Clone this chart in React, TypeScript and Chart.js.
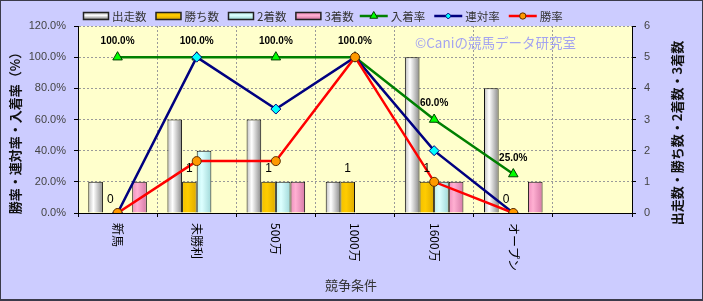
import React, { useEffect, useRef } from 'react';
import { Chart, registerables } from 'chart.js';

Chart.register(...registerables);

// ---- data ----
const categories = ['新馬', '未勝利', '500万', '1000万', '1600万', 'オープン', ''];
const starts = [1, 3, 3, 1, 5, 4, null];
const wins = [0, 1, 1, 1, 1, 0, null];
const seconds = [0, 2, 1, 0, 1, 0, null];
const thirds = [1, 0, 1, 0, 1, 1, null];
const placeRate = [100, 100, 100, 100, 60, 25, null];
const quinellaRate = [0, 100, 66.7, 100, 40, 0, null];
const winRate = [0, 33.3, 33.3, 100, 20, 0, null];
const leftTickMax = 120;
const leftTickStep = 20;
const rightTickMax = 6;
const rightTickStep = 1;
const barLabels = ['出走数', '勝ち数', '2着数', '3着数'];
const lineLabels = ['入着率', '連対率', '勝率'];
const leftTitle = '勝率・連対率・入着率（%）';
const rightTitle = '出走数・勝ち数・2着数・3着数';
const xTitle = '競争条件';
const watermark = '©Caniの競馬データ研究室';

// ---- styles ----
const JP = '"Noto Sans CJK JP", sans-serif';
const NUM = '"Liberation Sans", Arial, sans-serif';
const CAT_PCT = 0.74;

type Stops = [number, string][];
const barStops: Stops[] = [
  [[0, '#BDBDBD'], [0.35, '#FFFFFF'], [1, '#8A8A8A']],
  [[0, '#F2C000'], [0.4, '#FFCC00'], [1, '#DDAA00']],
  [[0, '#BFEFEF'], [0.35, '#DDFFFF'], [1, '#9FD8D8']],
  [[0, '#EE8FBC'], [0.35, '#FFB0D2'], [1, '#D679A6']],
];
const lineStyles = [
  { color: '#008000', point: 'triangle', fill: '#00FF00', border: '#004000', radius: 5.5 },
  { color: '#000080', point: 'rectRot', fill: '#00FFFF', border: '#000080', radius: 5 },
  { color: '#FF0000', point: 'circle', fill: '#FF9900', border: '#603000', radius: 4.5 },
];

function barFill(stops: Stops, pos: number) {
  return (c: any) => {
    const chart = c.chart;
    const xs = chart.scales && chart.scales.x;
    if (!xs || !xs.width || c.type !== 'data') return stops[1][1];
    const catW = xs.width / categories.length;
    const groupW = catW * CAT_PCT;
    const barW = groupW / 4;
    const left = xs.getPixelForValue(c.dataIndex) - groupW / 2 + pos * barW;
    const g = chart.ctx.createLinearGradient(left, 0, left + barW, 0);
    stops.forEach(([o, col]) => g.addColorStop(o, col));
    return g;
  };
}

function drawMarker(ctx: CanvasRenderingContext2D, kind: string, x: number, y: number, r: number, fill: string, border: string) {
  ctx.save();
  ctx.beginPath();
  if (kind === 'triangle') {
    ctx.moveTo(x, y - r);
    ctx.lineTo(x + r * 0.866, y + r * 0.5);
    ctx.lineTo(x - r * 0.866, y + r * 0.5);
    ctx.closePath();
  } else if (kind === 'rectRot') {
    const s = r * 0.75;
    ctx.moveTo(x, y - s);
    ctx.lineTo(x + s, y);
    ctx.lineTo(x, y + s);
    ctx.lineTo(x - s, y);
    ctx.closePath();
  } else {
    ctx.arc(x, y, r * 0.9, 0, Math.PI * 2);
  }
  ctx.fillStyle = fill;
  ctx.fill();
  ctx.lineWidth = 1;
  ctx.strokeStyle = border;
  ctx.stroke();
  ctx.restore();
}

const decorPlugin = {
  id: 'decor',
  beforeDraw(chart: any) {
    const { ctx, chartArea: a, width, height } = chart;
    ctx.save();
    ctx.fillStyle = '#CCCCFF';
    ctx.fillRect(0, 0, width, height);
    ctx.fillStyle = '#FFFFCC';
    ctx.fillRect(a.left, a.top, a.right - a.left, a.bottom - a.top);
    ctx.restore();
  },
  beforeDatasetsDraw(chart: any) {
    const { ctx } = chart;
    ctx.save();
    ctx.font = `13.5px ${JP}`;
    ctx.fillStyle = '#A4A4F0';
    ctx.textAlign = 'left';
    ctx.textBaseline = 'middle';
    ctx.fillText(watermark, 415, 43);
    ctx.restore();
  },
  afterDatasetsDraw(chart: any) {
    const { ctx } = chart;
    ctx.save();
    // 入着率 labels
    const pMeta = chart.getDatasetMeta(4);
    ctx.font = `bold 10px ${NUM}`;
    ctx.fillStyle = '#000';
    ctx.textAlign = 'center';
    ctx.textBaseline = 'middle';
    pMeta.data.forEach((el: any, i: number) => {
      const v = placeRate[i];
      if (v == null) return;
      ctx.fillText(v.toFixed(1) + '%', el.x, el.y - 16);
    });
    // 勝ち数 labels
    const wMeta = chart.getDatasetMeta(1);
    ctx.font = `12px ${NUM}`;
    wMeta.data.forEach((el: any, i: number) => {
      const v = wins[i];
      if (v == null) return;
      ctx.fillText(String(v), el.x, el.y - 13);
    });
    ctx.restore();
  },
  afterDraw(chart: any) {
    const { ctx, chartArea: a, width, height } = chart;
    const xs = chart.scales.x;
    ctx.save();
    // legend
    let x = 83;
    const ly = 16;
    ctx.font = `11.5px ${JP}`;
    ctx.textBaseline = 'middle';
    ctx.textAlign = 'left';
    barLabels.forEach((lab, i) => {
      const g = ctx.createLinearGradient(0, ly - 3, 0, ly + 3);
      g.addColorStop(0, barStops[i][0][1]);
      g.addColorStop(0.4, barStops[i][1][1]);
      g.addColorStop(1, barStops[i][2][1]);
      ctx.beginPath();
      ctx.rect(x + 0.5, ly - 3.5, 25, 7);
      ctx.fillStyle = g;
      ctx.fill();
      ctx.lineWidth = 1.5;
      ctx.strokeStyle = '#222';
      ctx.stroke();
      ctx.fillStyle = '#333';
      ctx.fillText(lab, x + 29, ly + 1);
      x += 29 + ctx.measureText(lab).width + (i === 3 ? 6 : 9);
    });
    lineLabels.forEach((lab, i) => {
      const s = lineStyles[i];
      ctx.beginPath();
      ctx.moveTo(x, ly);
      ctx.lineTo(x + 28, ly);
      ctx.lineWidth = 2.5;
      ctx.strokeStyle = s.color;
      ctx.stroke();
      drawMarker(ctx, s.point, x + 14, ly, s.radius - 1, s.fill, s.border);
      ctx.fillStyle = '#333';
      ctx.fillText(lab, x + 31, ly + 1);
      x += 31 + ctx.measureText(lab).width + 9;
    });
    // x tick labels (vertical, top-to-bottom)
    ctx.font = `12px ${JP}`;
    ctx.fillStyle = '#000';
    categories.forEach((c, i) => {
      if (!c) return;
      const px = xs.getPixelForValue(i);
      ctx.save();
      ctx.translate(px, a.bottom + 10);
      ctx.rotate(Math.PI / 2);
      ctx.textAlign = 'left';
      ctx.textBaseline = 'middle';
      ctx.fillText(c, 0, 0);
      ctx.restore();
    });
    // axis titles
    ctx.font = `bold 13px ${JP}`;
    ctx.fillStyle = '#111';
    ctx.textAlign = 'center';
    ctx.textBaseline = 'middle';
    ctx.save();
    ctx.translate(15, 130);
    ctx.rotate(-Math.PI / 2);
    ctx.fillText(leftTitle, 0, 0);
    ctx.restore();
    ctx.save();
    ctx.translate(677, 133);
    ctx.rotate(-Math.PI / 2);
    ctx.fillText(rightTitle, 0, 0);
    ctx.restore();
    ctx.font = `13px ${JP}`;
    ctx.fillStyle = '#333';
    ctx.fillText(xTitle, (a.left + a.right) / 2 - 4, 285);
    // outer border
    ctx.fillStyle = '#3A3A4A';
    ctx.fillRect(0, 0, width, 1);
    ctx.fillRect(0, 0, 1, height);
    ctx.fillRect(width - 1, 0, 1, height);
    ctx.fillRect(0, height - 2, width, 2);
    ctx.restore();
  },
};

export default function App() {
  const ref = useRef<HTMLCanvasElement | null>(null);
  useEffect(() => {
    if (!ref.current) return;
    const barSets = [starts, wins, seconds, thirds].map((d, i) => ({
      type: 'bar' as const,
      label: barLabels[i],
      data: d,
      yAxisID: 'y1',
      backgroundColor: barFill(barStops[i], i),
      borderColor: '#111',
      borderWidth: 1,
      barPercentage: 1,
      categoryPercentage: CAT_PCT,
      order: 10,
    }));
    const lineSets = [placeRate, quinellaRate, winRate].map((d, i) => ({
      type: 'line' as const,
      label: lineLabels[i],
      data: d,
      yAxisID: 'y',
      borderColor: lineStyles[i].color,
      borderWidth: 2.5,
      pointStyle: lineStyles[i].point,
      pointRadius: lineStyles[i].radius,
      pointBackgroundColor: lineStyles[i].fill,
      pointBorderColor: lineStyles[i].border,
      pointBorderWidth: 1,
      tension: 0,
      fill: false,
      spanGaps: false,
      order: 3 - i,
    }));
    const chart = new Chart(ref.current, {
      data: { labels: categories, datasets: [...barSets, ...lineSets] as any },
      options: {
        animation: false,
        responsive: false,
        devicePixelRatio: 1,
        layout: { padding: { top: 26, left: 0, right: 0, bottom: 0 } },
        plugins: { legend: { display: false }, tooltip: { enabled: false }, title: { display: false } },
        scales: {
          x: {
            type: 'category',
            offset: true,
            grid: { offset: true, color: '#9a9a9a', tickLength: 4, tickColor: '#000' },
            border: { color: '#000', width: 1, dash: [2, 2] },
            ticks: { display: false },
            afterFit: (s: any) => { s.height = 88; },
          },
          y: {
            type: 'linear',
            position: 'left',
            min: 0,
            max: leftTickMax,
            ticks: {
              stepSize: leftTickStep,
              callback: (v: any) => Number(v).toFixed(1) + '%',
              font: { family: NUM, size: 11 },
              color: '#444',
              padding: 8,
            },
            grid: { color: '#9a9a9a', tickLength: 4, tickColor: '#000' },
            border: { color: '#000', width: 1, dash: [2, 2] },
            afterFit: (s: any) => { s.width = 78; },
          },
          y1: {
            type: 'linear',
            position: 'right',
            min: 0,
            max: rightTickMax,
            ticks: {
              stepSize: rightTickStep,
              font: { family: NUM, size: 11 },
              color: '#444',
              padding: 8,
            },
            grid: { drawOnChartArea: false, tickLength: 4, tickColor: '#000' },
            border: { color: '#000', width: 1 },
            afterFit: (s: any) => { s.width = 71; },
          },
        },
      } as any,
      plugins: [decorPlugin],
    });
    return () => chart.destroy();
  }, []);
  return (
    <div style={{ position: 'fixed', left: 0, top: 0, width: 703, height: 301 }}>
      <canvas ref={ref} width={703} height={301} style={{ width: 703, height: 301, display: 'block' }} />
    </div>
  );
}
